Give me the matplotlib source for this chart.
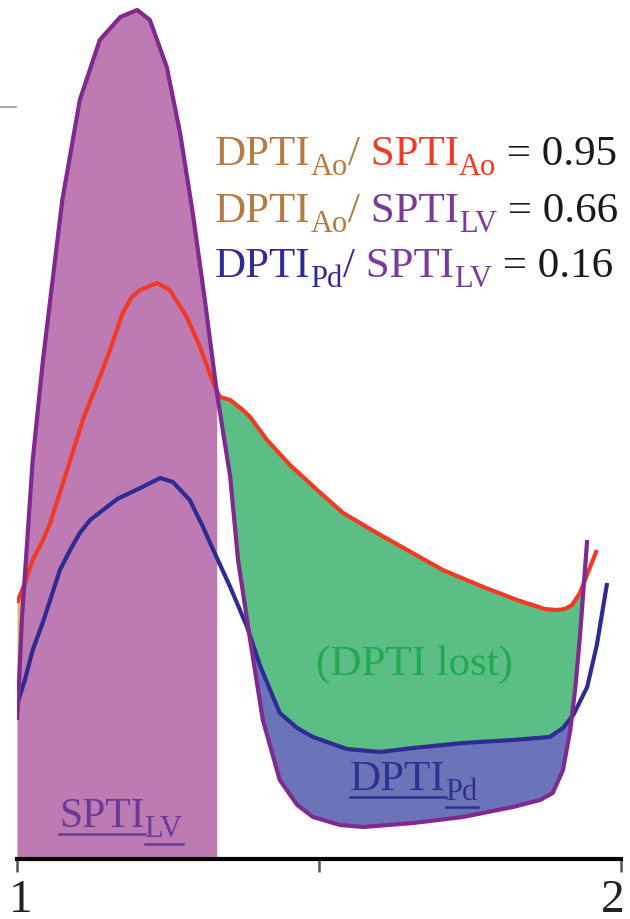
import matplotlib
matplotlib.use('Agg')
import matplotlib.pyplot as plt
import matplotlib.transforms as mtransforms
import numpy as np
from matplotlib.lines import Line2D

serif = ['Liberation Serif', 'DejaVu Serif']

# time (s) and pressure (mmHg)
lv_t = [1.000, 1.002, 1.008, 1.017, 1.026, 1.043, 1.063, 1.075, 1.104, 1.137, 1.171, 1.199,
        1.220, 1.248, 1.270, 1.291, 1.311, 1.331, 1.353, 1.366, 1.386, 1.407, 1.435, 1.464,
        1.490, 1.535, 1.573, 1.656, 1.738, 1.821, 1.866, 1.887, 1.904, 1.916, 1.924, 1.932, 1.944]
lv_p = [27.8, 31.8, 47.8, 63.8, 79.8, 99.8, 119.8, 131.8, 151.8, 163.8, 168.4, 169.8,
        167.8, 158.4, 145.2, 129.2, 111.8, 93.2, 76.4, 59.8, 43.8, 27.8, 15.8, 10.8,
        8.4, 6.8, 6.4, 7.2, 8.4, 10.4, 11.8, 13.2, 17.8, 25.8, 33.8, 44.4, 63.8]

ao_t = [1.000, 1.013, 1.026, 1.043, 1.055, 1.083, 1.109, 1.137, 1.154, 1.175, 1.190, 1.204,
        1.232, 1.253, 1.281, 1.303, 1.325, 1.336, 1.353, 1.374, 1.386, 1.414, 1.452, 1.497,
        1.540, 1.596, 1.646, 1.705, 1.772, 1.828, 1.874, 1.894, 1.907, 1.919, 1.932, 1.945, 1.960]
ao_p = [51.2, 55.2, 59.8, 63.8, 67.2, 77.8, 87.8, 96.4, 101.8, 109.2, 112.4, 113.8,
        115.2, 113.8, 108.4, 102.4, 95.2, 92.4, 91.8, 89.8, 88.4, 83.8, 78.8, 73.8,
        69.2, 65.2, 61.8, 57.8, 54.4, 51.8, 50.0, 49.8, 50.0, 50.8, 53.2, 57.2, 61.8]

pd_t = [1.000, 1.013, 1.026, 1.043, 1.055, 1.071, 1.088, 1.104, 1.121, 1.166, 1.204, 1.237,
        1.258, 1.286, 1.308, 1.325, 1.353, 1.381, 1.402, 1.435, 1.464, 1.490, 1.546, 1.601,
        1.656, 1.738, 1.821, 1.882, 1.904, 1.921, 1.944, 1.960, 1.977]
pd_p = [30.8, 35.8, 41.8, 47.4, 51.8, 57.8, 61.8, 65.2, 67.8, 72.0, 74.2, 76.2,
        75.4, 71.8, 66.4, 61.8, 54.4, 46.4, 38.8, 29.2, 26.2, 24.4, 22.0, 21.4,
        22.2, 23.2, 23.8, 24.4, 26.2, 28.8, 34.4, 42.8, 55.2]

systole_end = 1.331
ratio_values = ['0.95', '0.66', '0.16']
tick_pos = [1, 1.5, 2]
tick_labels = ['1', '', '2']

c_lv = '#80298F'
c_ao = '#F03A26'
c_pd = '#2E2C92'
c_tan = '#B67B42'
c_purple_txt = '#7A3A9C'
c_green_txt = '#22A852'

W, H = 630, 919
fig = plt.figure(figsize=(W / 100, H / 100), dpi=100)
ax = fig.add_axes([17 / W, 60 / H, 604 / W, 859 / H])

grid = np.linspace(1.0, 1.98, 3000)
lv_g = np.interp(grid, lv_t, lv_p)
ao_g = np.interp(grid, ao_t, ao_p)
pd_g = np.interp(grid, pd_t, pd_p)

sys_mask = grid <= systole_end
ax.fill_between(grid[sys_mask], 0, lv_g[sys_mask], color='#BE7AB3', lw=0)
ax.fill_between(grid, lv_g, ao_g, where=(grid < 1.1) & (ao_g > lv_g),
                interpolate=True, color='#DDB878', lw=0)
dia = (grid > 1.3) & (grid < lv_t[-1])
low = np.maximum(pd_g, lv_g)
ax.fill_between(grid, low, ao_g, where=dia & (ao_g > low), interpolate=True,
                color='#5ABE85', lw=0)
ax.fill_between(grid, lv_g, pd_g, where=dia & (pd_g > lv_g), interpolate=True,
                color='#6B74B8', lw=0)

line_kw = dict(lw=3, solid_capstyle='butt', solid_joinstyle='round')
ax.plot(pd_t, pd_p, color=c_pd, **line_kw)
ax.plot(ao_t, ao_p, color=c_ao, **line_kw)
ax.plot(lv_t, lv_p, color=c_lv, **line_kw)

ax.set_xlim(1, 2)
ax.set_ylim(0, 171.8)
ax.set_yticks([])
for s in ['left', 'top', 'right']:
    ax.spines[s].set_visible(False)
ax.spines['bottom'].set_linewidth(3)
ax.spines['bottom'].set_color('black')
ax.set_xticks(tick_pos)
ax.set_xticklabels(tick_labels, fontfamily=serif, fontsize=34, color='#222222')
ax.tick_params(axis='x', direction='out', length=9.5, width=1.8, color='#555555', pad=5)
ax.patch.set_alpha(0)

# nudge the end labels inward so they stay inside the frame
labs = ax.get_xticklabels()
labs[0].set_transform(labs[0].get_transform() +
                      mtransforms.ScaledTranslation(4 / 100, 0, fig.dpi_scale_trans))
labs[-1].set_transform(labs[-1].get_transform() +
                       mtransforms.ScaledTranslation(-8 / 100, 0, fig.dpi_scale_trans))

fig.add_artist(Line2D([0, 16 / W], [1 - 107 / H] * 2, color='#9a9a9a', lw=1.2))

renderer = fig.canvas.get_renderer()


def pieces(x0, base, parts, main=31, sub=22, drop=10, underline=False):
    x = x0
    for s, color, is_sub in parts:
        y = base + drop if is_sub else base
        t = fig.text(x / W, 1 - y / H, s, color=color, fontsize=sub if is_sub else main,
                     family=serif, ha='left', va='baseline')
        bb = t.get_window_extent(renderer)
        if underline:
            uy = 1 - (y + 7) / H
            fig.add_artist(Line2D([bb.x0 / W, bb.x1 / W], [uy, uy], color=color, lw=1.8))
        x = bb.x1


pieces(215, 165, [('DPTI', c_tan, False), ('Ao', c_tan, True), ('/', c_tan, False),
                  (' SPTI', c_ao, False), ('Ao', c_ao, True),
                  (' = ' + ratio_values[0], '#1a1a1a', False)])
pieces(215, 222, [('DPTI', c_tan, False), ('Ao', c_tan, True), ('/', c_tan, False),
                  (' SPTI', c_purple_txt, False), ('LV', c_purple_txt, True),
                  (' = ' + ratio_values[1], '#1a1a1a', False)])
pieces(215, 277, [('DPTI', c_pd, False), ('Pd', c_pd, True), ('/', c_pd, False),
                  (' SPTI', c_purple_txt, False), ('LV', c_purple_txt, True),
                  (' = ' + ratio_values[2], '#1a1a1a', False)])

fig.text(414 / W, 1 - 675 / H, '(DPTI lost)', color=c_green_txt, fontsize=31,
         family=serif, ha='center', va='baseline')
pieces(350, 790, [('DPTI', '#2E3192', False), ('Pd', '#2E3192', True)], underline=True)
pieces(59, 827, [('SPTI', '#6B3A97', False), ('LV', '#6B3A97', True)], main=30, underline=True)

fig.savefig('out.png', dpi=100)
